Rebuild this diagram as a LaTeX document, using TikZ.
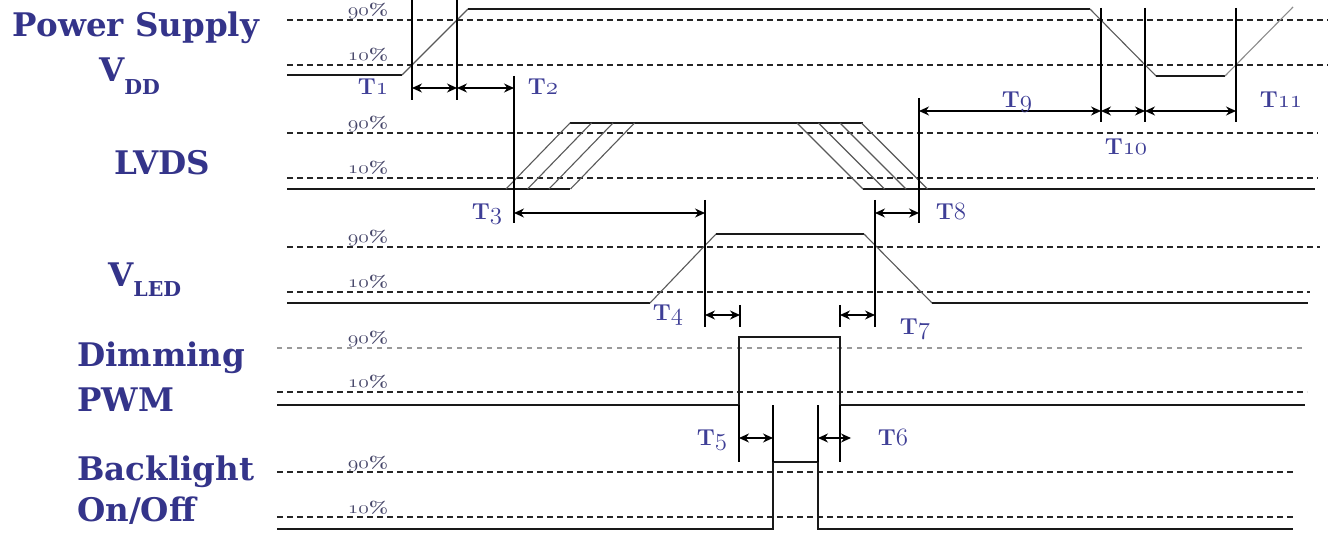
\documentclass[tikz,border=0pt]{standalone}
\usepackage{fontspec}
\usepackage{graphicx}
\usetikzlibrary{arrows.meta}
\newfontfamily\labfont{DejaVu Serif}
\definecolor{labblue}{RGB}{52,52,138}
\definecolor{tblue}{RGB}{62,62,150}
\definecolor{pctcol}{RGB}{70,70,105}
\newcommand\osn[1]{{\usefont{OML}{lmm}{b}{it}#1}}
\newcommand\bigfs{\fontsize{32.5}{34}\selectfont}
\newcommand\subfs{\fontsize{20.5}{22}\selectfont}
\tikzset{
 sig/.style={line width=1.9pt, black!90},
 slope/.style={line width=1.1pt, black!65},
 thr/.style={line width=1.4pt, black!85, dash pattern=on 6pt off 4pt},
 thrlight/.style={line width=1.1pt, black!40, dash pattern=on 5pt off 5pt},
 vline/.style={line width=1.5pt, black},
 dim/.style={line width=1.1pt, {Stealth[length=10pt,width=9pt]}-{Stealth[length=10pt,width=9pt]}},
 siglab/.style={inner sep=0pt, text=labblue, font=\labfont\bfseries\bigfs},
 tlab/.style={inner sep=0pt, anchor=base, text=tblue, font=\bfseries\fontsize{23}{25}\selectfont},
 pct/.style={inner sep=0pt, anchor=base, text=pctcol, font=\bfseries\fontsize{16.5}{18}\selectfont},
}
\begin{document}
\begin{tikzpicture}[x=1pt,y=-1pt]
\useasboundingbox[fill=white] (0,0) rectangle (1331,534);
% ---------- signal names
\node[siglab, anchor=base] (ps) at (136,37) {Power Supply};
\node[siglab, anchor=base west] (vdd) at (99,82) {V\raisebox{-13pt}{\subfs DD}};
\node[siglab, anchor=base] (lvds) at (162,175) {LVDS};
\node[siglab, anchor=base west] (vled) at (108,287) {V\raisebox{-10pt}{\subfs LED}};
\node[siglab, anchor=base west] (dim1) at (77,367) {Dimming};
\node[siglab, anchor=base west] (dim2) at (77,412) {PWM};
\node[siglab, anchor=base west] (bl1) at (77,480) {Backlight};
\node[siglab, anchor=base west] (bl2) at (77,521) {On/Off};
% ---------- percentage labels
\foreach \n/\y/\t in {p1/16/90, p2/61/10, p3/129/90, p4/174/10, p5/243/90, p6/288/10, p7/344/90, p8/388/10, p9/468/90, p10/513/10}
  \node[pct] (\n) at (368,\y) {\scalebox{1.25}[1]{\osn{\t}\%}};
% ---------- VDD
\draw[thr] (287,20) -- (1328,20);
\draw[thr] (287,65) -- (1328,65);
\draw[sig] (287,75) -- (402,75);
\draw[slope] (402,75) -- (468,9);
\draw[sig] (468,9) -- (1090,9);
\draw[slope] (1090,9) -- (1156,76);
\draw[sig] (1156,76) -- (1225,76);
\draw[slope, black!45] (1225,76) -- (1293,7);
% ---------- LVDS
\draw[thr] (287,133) -- (1318,133);
\draw[thr] (287,178) -- (1318,178);
\draw[sig] (287,189) -- (570,189);
\draw[sig] (570,123) -- (863,123);
\draw[sig] (863,189) -- (1315,189);
\foreach \d in {0,21.5,43,64.5} {
  \draw[slope] (506+\d,189) -- (570+\d,123);
  \draw[slope] (797+\d,123) -- (863+\d,189);
}
% ---------- VLED
\draw[thr] (287,247) -- (1320,247);
\draw[thr] (287,292) -- (1310,292);
\draw[sig] (287,303) -- (650,303);
\draw[slope] (650,303) -- (716,234);
\draw[sig] (716,234) -- (864,234);
\draw[slope] (864,234) -- (932,303);
\draw[sig] (932,303) -- (1308,303);
% ---------- PWM
\draw[thrlight] (277,348) -- (1305,348);
\draw[thr] (277,392) -- (1307,392);
\draw[sig] (277,405) -- (739,405) -- (739,337) -- (840,337) -- (840,405) -- (1305,405);
\draw[vline] (739,405) -- (739,462);
\draw[vline] (840,405) -- (840,462);
% ---------- Backlight
\draw[thr] (277,472) -- (1295,472);
\draw[thr] (277,517) -- (1295,517);
\draw[sig] (277,529) -- (773,529) -- (773,462) -- (818,462) -- (818,529) -- (1293,529);
\draw[vline] (773,462) -- (773,405);
\draw[vline] (818,462) -- (818,405);
% ---------- markers
\draw[vline] (412,0) -- (412,100);
\draw[vline] (457,0) -- (457,100);
\draw[vline] (514,76) -- (514,223);
\draw[vline] (919,98) -- (919,223);
\draw[vline] (1101,8) -- (1101,122);
\draw[vline] (1145,8) -- (1145,122);
\draw[vline] (1236,8) -- (1236,122);
\draw[vline] (705,200) -- (705,327);
\draw[vline] (875,200) -- (875,327);
\draw[vline] (740,305) -- (740,327);
\draw[vline] (840,305) -- (840,327);
% ---------- dimension arrows
\draw[dim] (412,88) -- (457,88);
\draw[dim] (457,88) -- (514,88);
\draw[dim] (514,213) -- (705,213);
\draw[dim] (875,213) -- (919,213);
\draw[dim] (919,111) -- (1101,111);
\draw[dim] (1101,111) -- (1145,111);
\draw[dim] (1145,111) -- (1236,111);
\draw[dim] (705,315) -- (740,315);
\draw[dim] (840,315) -- (875,315);
\draw[dim] (739,438) -- (773,438);
\draw[dim] (818,438) -- (851,438);
% ---------- T labels
\node[tlab] (t1) at (373,95) {T\osn{1}};
\node[tlab] (t2) at (543,95) {T\osn{2}};
\node[tlab] (t3) at (487,220) {T\osn{3}};
\node[tlab] (t4) at (668,321) {T\osn{4}};
\node[tlab] (t5) at (712,446) {T\osn{5}};
\node[tlab] (t6) at (893,446) {T\osn{6}};
\node[tlab] (t7) at (915,335) {T\osn{7}};
\node[tlab] (t8) at (951,220) {T\osn{8}};
\node[tlab] (t9) at (1017,108) {T\osn{9}};
\node[tlab] (t10) at (1126,155) {T\osn{10}};
\node[tlab] (t11) at (1281,108) {T\osn{11}};
\end{tikzpicture}
\end{document}
